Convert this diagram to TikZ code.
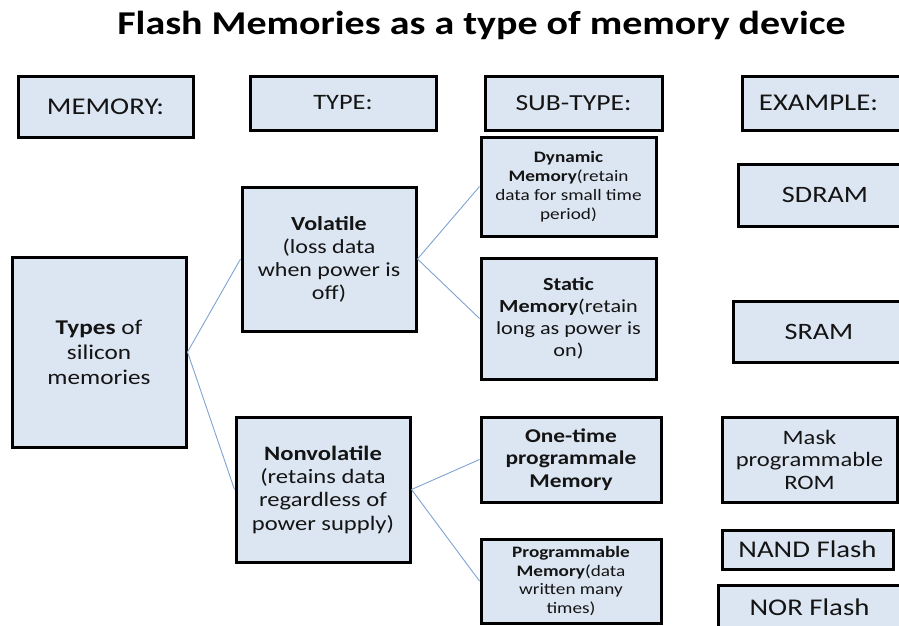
\documentclass[tikz,border=0pt]{standalone}
\usepackage{fontspec}
\setmainfont{Carlito}[FakeStretch=1.2]
\definecolor{boxfill}{HTML}{DCE6F2}
\definecolor{linkcol}{HTML}{7FA3CF}
\definecolor{txt}{HTML}{141414}
\tikzset{
  box/.style={draw=black, line width=3pt, fill=boxfill, inner sep=1pt, align=center, text=txt},
  link/.style={draw=linkcol, line width=0.9pt},
}
\newcommand\fs[2]{\fontsize{#1}{#2}\selectfont}
\begin{document}
\begin{tikzpicture}[x=1pt,y=-1pt]
\useasboundingbox (0,0) rectangle (899,625);
\clip (0,0) rectangle (899,625);
\node[anchor=base, text=black, font=\bfseries\fs{33.3}{38}] (title) at (481.5,34) {Flash Memories as a type of memory device};
% header row
\node[box, minimum width=175pt, minimum height=61pt, font=\fs{24}{28}] (mem) at (105.5,106.5) {MEMORY:};
\node[box, minimum width=186pt, minimum height=54pt, font=\fs{22}{26}] (typ) at (343,103) {TYPE:};
\node[box, minimum width=177pt, minimum height=54pt, font=\fs{23}{27}] (sub) at (573.5,103) {SUB-TYPE:};
\node[box, minimum width=163pt, minimum height=54pt, font=\fs{24}{28}] (ex) at (823.5,103) {\hspace*{-10pt}EXAMPLE:};
% memory
\node[box, minimum width=174pt, minimum height=190pt, font=\fs{21}{25}] (types) at (99,352) {\textbf{Types} of\\silicon\\memories};
% types
\node[box, minimum width=174pt, minimum height=144pt, font=\fs{20}{23}] (vol) at (329,259) {\textbf{Volatile}\\(loss data\\when power is\\off)};
\node[box, minimum width=174pt, minimum height=145pt, font=\fs{20.5}{23.3}] (nonv) at (323,489.5) {\textbf{Nonvolatile}\\(retains data\\regardless of\\power supply)};
% sub-types
\node[box, minimum width=175pt, minimum height=99pt, font=\fs{16}{19}] (dyn) at (568.5,186.5) {\textbf{Dynamic}\\\textbf{Memory}(retain\\data for small time\\period)};
\node[box, minimum width=175pt, minimum height=121pt, font=\fs{18.5}{22}] (stat) at (568.5,318.5) {\textbf{Static}\\\textbf{Memory}(retain\\long as power is\\on)};
\node[box, minimum width=180pt, minimum height=85pt, font=\bfseries\fs{19.5}{22.5}] (one) at (571,459.5) {One-time\\programmale\\Memory};
\node[box, minimum width=180pt, minimum height=84pt, font=\fs{16}{18.5}] (prog) at (571,581) {\textbf{Programmable}\\\textbf{Memory}(data\\written many\\times)};
% examples
\node[box, minimum width=174pt, minimum height=62pt, font=\fs{23.5}{27}] (sdram) at (825,195) {SDRAM};
\node[box, minimum width=172pt, minimum height=61pt, font=\fs{23.5}{27}] (sram) at (819,331.5) {SRAM};
\node[box, minimum width=175pt, minimum height=85pt, font=\fs{20.5}{22.5}] (mask) at (809.5,459.5) {Mask\\programmable\\ROM};
\node[box, minimum width=171pt, minimum height=39pt, font=\fs{24}{28}] (nand) at (807.5,549.5) {NAND Flash};
\node[box, minimum width=183pt, minimum height=45pt, font=\fs{24}{28}] (nor) at (809.5,607.5) {NOR Flash};
% connectors
\draw[link] (types.east) -- (vol.west);
\draw[link] (types.east) -- (nonv.west);
\draw[link] (vol.east) -- (dyn.west);
\draw[link] (vol.east) -- (stat.west);
\draw[link] (nonv.east) -- (one.west);
\draw[link] (nonv.east) -- (prog.west);
\end{tikzpicture}
\end{document}
